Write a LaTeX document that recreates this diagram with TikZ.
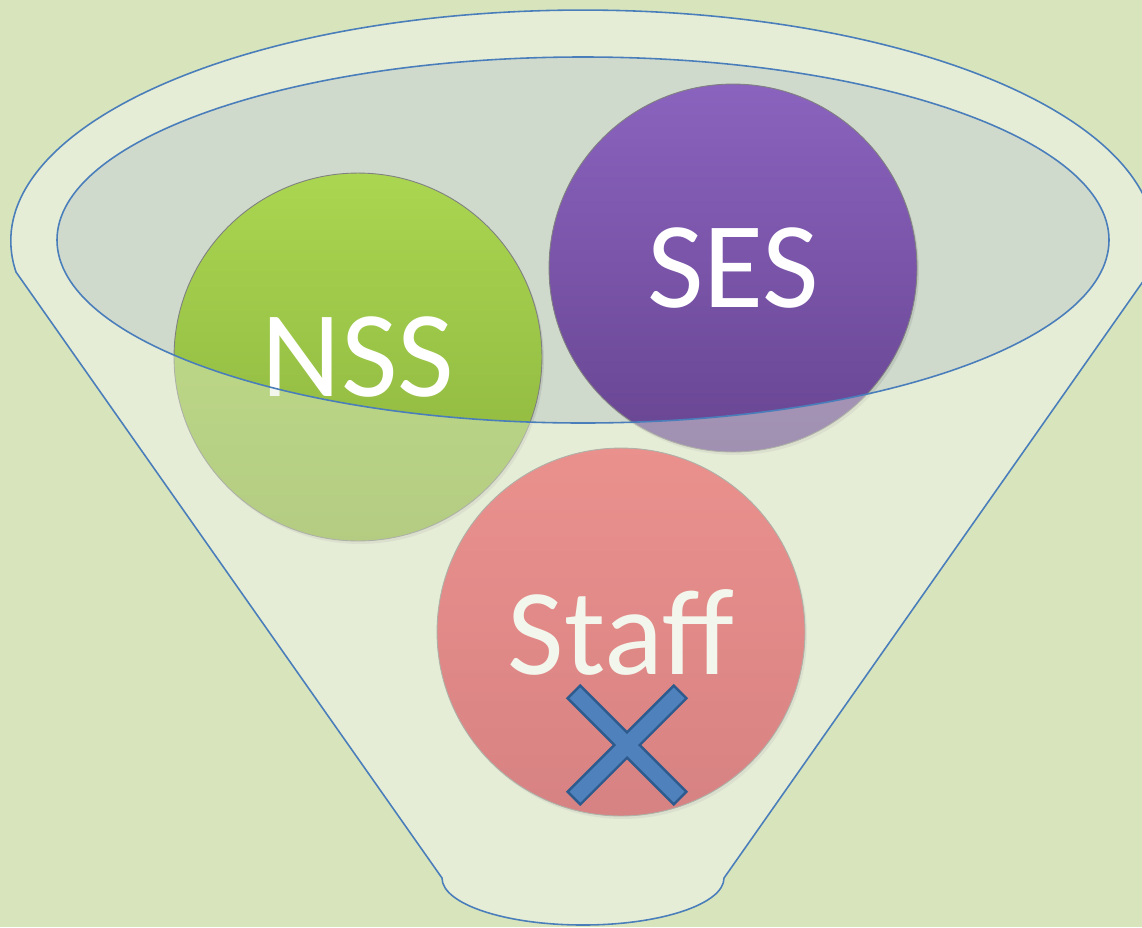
\documentclass[tikz,border=0pt]{standalone}
\usepackage{fontspec}
\setmainfont{Carlito}
\usetikzlibrary{shadows}
\definecolor{bgcol}{HTML}{D8E4BC}
\definecolor{funnelfill}{HTML}{E6EDD7}
\definecolor{mouthfill}{HTML}{CFDACD}
\definecolor{edgeblue}{HTML}{4A7EBB}
\definecolor{nsstop}{HTML}{AAD651}
\definecolor{nssbot}{HTML}{8AB23C}
\definecolor{sestop}{HTML}{8A63BE}
\definecolor{sesbot}{HTML}{684592}
\definecolor{stafftop}{HTML}{EE4652}
\definecolor{staffbot}{HTML}{CC2B3E}
\definecolor{crossfill}{HTML}{4F81BD}
\definecolor{crossedge}{HTML}{2E5B8E}
\begin{document}
\begin{tikzpicture}[x=0.02cm,y=-0.02cm,
	ball/.style={circle,minimum size=7.36cm,inner sep=0pt,draw=black!50,line width=0.5pt,
		text=white,font=\fontsize{70}{84}\selectfont,
		drop shadow={opacity=0.2,shadow xshift=0.04cm,shadow yshift=-0.06cm}},
	rim/.style={draw=edgeblue,line width=0.9pt}]
	\clip (0,0) rectangle (1142,927);
	\fill[bgcol] (0,0) rectangle (1142,927);

	% funnel body and its mouth
	\fill[funnelfill] (16,272) arc[start angle=172.3,end angle=367.7,x radius=572,y radius=231]
		-- (724,878) arc[start angle=0,end angle=180,x radius=141,y radius=47] -- cycle;
	\fill[mouthfill] (583,240) ellipse [x radius=526,y radius=183];

	% the three sources
	\node[ball,top color=nsstop,bottom color=nssbot] (nss) at (358,357) {NSS};
	\node[ball,top color=sestop,bottom color=sesbot] (ses) at (733,268) {SES};
	\node[ball,top color=stafftop,bottom color=staffbot] (staff) at (621,632) {Staff};

	% front of the funnel, washed over the balls
	\draw[rim,fill=funnelfill,fill opacity=0.45,even odd rule]
		(16,272) arc[start angle=172.3,end angle=367.7,x radius=572,y radius=231]
		-- (724,878) arc[start angle=0,end angle=180,x radius=141,y radius=47] -- cycle
		(583,240) ellipse [x radius=526,y radius=183];

	% cross on Staff
	\begin{scope}[shift={(627,745)},rotate=45]
		\draw[fill=crossfill,draw=crossedge,line width=1.4pt,line join=miter]
			(9,9) -- (75,9) -- (75,-9) -- (9,-9) -- (9,-75) -- (-9,-75) -- (-9,-9)
			-- (-75,-9) -- (-75,9) -- (-9,9) -- (-9,75) -- (9,75) -- cycle;
	\end{scope}
\end{tikzpicture}
\end{document}
